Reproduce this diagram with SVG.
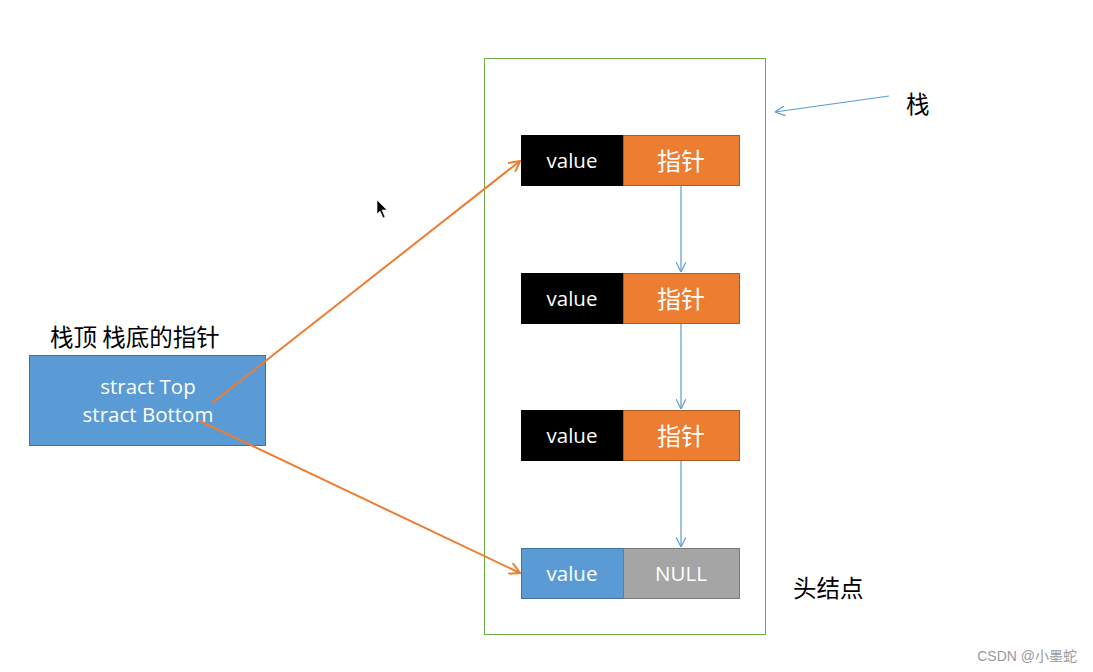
<svg xmlns="http://www.w3.org/2000/svg" width="1093" height="672" viewBox="0 0 1093 672">
<style>
.t{font-family:"Open Sans","Noto Sans CJK SC",sans-serif;}
.w{fill:#fff;font-size:20.5px;text-anchor:middle;}
.z{font-size:24px;}
.cj{font-family:"Noto Sans CJK SC",sans-serif;fill:#000;font-size:23.5px;}
.val{fill:#000;stroke:#000;}
.ptr{fill:#ED7D31;stroke:#AE5A21;stroke-width:1;}
.blue{stroke:#5B9BD5;stroke-width:1.2;fill:none;}
.or{stroke:#ED7D31;stroke-width:2;fill:none;}
</style>
<defs>
<marker id="ab" viewBox="0 0 10 10" refX="10" refY="5" markerWidth="10" markerHeight="10" markerUnits="userSpaceOnUse" orient="auto"><path d="M0,0 L10,5 L0,10" fill="none" stroke="#5B9BD5" stroke-width="1.2"/></marker>
<marker id="ao" viewBox="0 0 12 12" refX="11" refY="6" markerWidth="12" markerHeight="12" markerUnits="userSpaceOnUse" orient="auto"><path d="M0,0 L11,6 L0,12" fill="none" stroke="#ED7D31" stroke-width="2"/></marker>
</defs>
<rect width="1093" height="672" fill="#fff"/>
<g id="stack">
<rect x="484.5" y="58.5" width="281" height="576" fill="none" stroke="#70AD47" stroke-width="1"/>
</g>
<g id="node1">
<rect class="val" x="521.5" y="135.5" width="102" height="50"/>
<rect class="ptr" x="623.5" y="135.5" width="116" height="50"/>
<text class="t w" x="572" y="168">value</text>
<text class="t w z" x="681" y="170">指针</text>
</g>
<g id="node2">
<rect class="val" x="521.5" y="273.5" width="102" height="50"/>
<rect class="ptr" x="623.5" y="273.5" width="116" height="50"/>
<text class="t w" x="572" y="306">value</text>
<text class="t w z" x="681" y="308">指针</text>
</g>
<g id="node3">
<rect class="val" x="521.5" y="410.5" width="102" height="50"/>
<rect class="ptr" x="623.5" y="410.5" width="116" height="50"/>
<text class="t w" x="572" y="443">value</text>
<text class="t w z" x="681" y="445">指针</text>
</g>
<g id="head">
<rect x="521.5" y="548.5" width="102" height="50" fill="#5B9BD5" stroke="#41719C"/>
<rect x="623.5" y="548.5" width="116" height="50" fill="#A5A5A5" stroke="#787878"/>
<text class="t w" x="572" y="581">value</text>
<text class="t w" x="681" y="581">NULL</text>
</g>
<g id="ptrbox">
<rect x="29.5" y="355.5" width="236" height="90" fill="#5B9BD5" stroke="#41719C"/>
<text class="t w" x="148" y="394">stract Top</text>
<text class="t w" x="148" y="422">stract Bottom</text>
</g>
<g id="labels">
<text class="cj" x="50" y="346">栈顶 栈底的指针</text>
<text class="cj" x="906" y="113">栈</text>
<text class="cj" x="793" y="597">头结点</text>
<text x="1077" y="661" font-family="'Liberation Sans','Noto Sans CJK SC',sans-serif" font-size="14" fill="#999" text-anchor="end">CSDN @小墨蛇</text>
</g>
<g id="connectors">
<line class="blue" x1="681" y1="186" x2="681" y2="272" marker-end="url(#ab)"/>
<line class="blue" x1="681" y1="324" x2="681" y2="409" marker-end="url(#ab)"/>
<line class="blue" x1="681" y1="461" x2="681" y2="547" marker-end="url(#ab)"/>
<line class="blue" x1="889" y1="96" x2="775" y2="112" marker-end="url(#ab)"/>
<line class="or" x1="212" y1="403" x2="520" y2="161" marker-end="url(#ao)"/>
<line class="or" x1="200" y1="421" x2="520" y2="573" marker-end="url(#ao)"/>
</g>
<g id="cursor">
<path d="M377,200 L377,214 L380,211 L383,218 L385,217 L382,210 L387,210 Z" fill="#000" stroke="#fff" stroke-width="0.6"/>
</g>
</svg>
